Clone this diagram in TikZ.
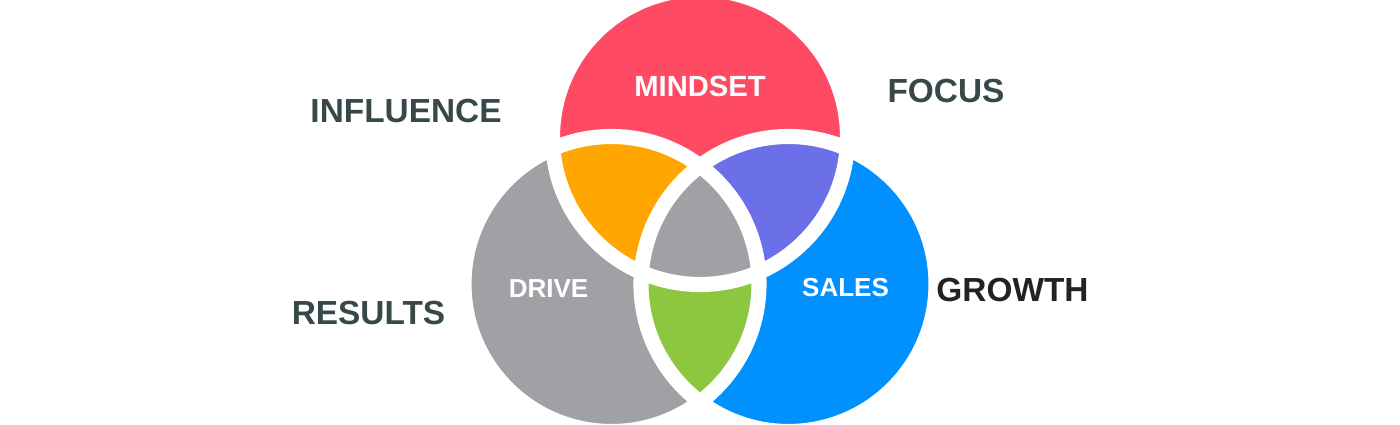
\documentclass[tikz,border=0pt]{standalone}
\usepackage{fontspec}
\setmainfont{Liberation Sans}
\definecolor{mindred}{RGB}{255,74,100}
\definecolor{drivegray}{RGB}{160,161,164}
\definecolor{salesblue}{RGB}{0,145,255}
\definecolor{infloran}{RGB}{255,166,0}
\definecolor{focuspur}{RGB}{107,111,232}
\definecolor{resgreen}{RGB}{141,198,63}
\definecolor{slatetxt}{RGB}{55,72,72}
\definecolor{darktxt}{RGB}{34,34,34}
\begin{document}
\begin{tikzpicture}[line join=round, line cap=round, font=\bfseries,
	lbl/.style={inner sep=0pt, text=slatetxt, font=\fontsize{9.5pt}{10pt}\selectfont\bfseries},
	inlbl/.style={inner sep=0pt, text=white, font=\fontsize{7.4pt}{8pt}\selectfont\bfseries}]
	\def\r{1.475}   % radius
	\def\gap{4.3pt} % white gap
	\useasboundingbox (0,0) rectangle (14,4.25);
	\clip (0,0) rectangle (14,4.25);
	\coordinate (M) at (7,2.88);
	\coordinate (D) at (6.115,1.41);
	\coordinate (S) at (7.885,1.41);
	\fill[mindred] (M) circle (\r);
	\fill[drivegray] (D) circle (\r);
	\fill[salesblue] (S) circle (\r);
	\begin{scope}
		\clip (M) circle (\r);
		\fill[infloran] (D) circle (\r);
		\fill[focuspur] (S) circle (\r);
	\end{scope}
	\begin{scope}
		\clip (D) circle (\r);
		\fill[resgreen] (S) circle (\r);
		\clip (M) circle (\r);
		\fill[drivegray] (S) circle (\r);
	\end{scope}
	\draw[white, line width=\gap] (M) circle (\r) (D) circle (\r) (S) circle (\r);
	\node[inlbl, font=\fontsize{8.3pt}{9pt}\selectfont\bfseries] (mindset) at (7,3.39) {MINDSET};
	\node[inlbl] (drive) at (5.485,1.36) {DRIVE};
	\node[inlbl] (sales) at (8.455,1.37) {SALES};
	\node[lbl] (influence) at (4.06,3.14) {INFLUENCE};
	\node[lbl] (focus) at (9.46,3.34) {FOCUS};
	\node[lbl] (results) at (3.685,1.12) {RESULTS};
	\node[lbl, text=darktxt] (growth) at (10.125,1.35) {GROWTH};
\end{tikzpicture}
\end{document}
